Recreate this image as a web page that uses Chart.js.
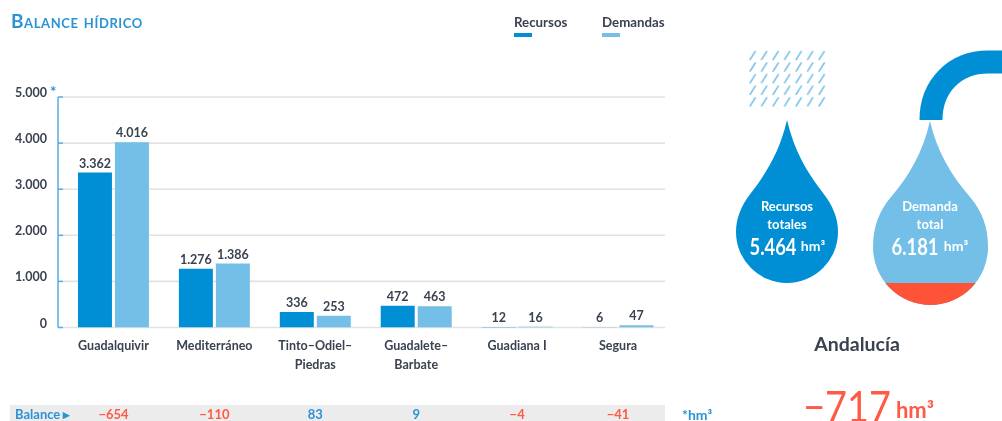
<!DOCTYPE html>
<html lang="es">
<head>
<meta charset="utf-8">
<title>Balance hídrico</title>
<script src="https://cdn.jsdelivr.net/npm/chart.js@4/dist/chart.umd.min.js"></script>
<style>
  html, body { margin: 0; background: #fff; }
  #page { position: relative; width: 1002px; height: 421px; overflow: hidden; font-family: Lato, sans-serif; color: #39424f; }
  #grafico { position: absolute; left: 0; top: 0; }
  #dibujo { position: absolute; left: 0; top: 0; }
  .t { position: absolute; white-space: nowrap; line-height: 1; }
  .c { transform: translateX(-50%); }
  #titulo { left: 11px; top: 11px; font-size: 19px; font-weight: 700; font-variant: small-caps; color: #2a93d5; letter-spacing: .6px; }
  .leyenda { font-size: 13.3px; font-weight: 700; top: 16px; }
  .marca { position: absolute; top: 33px; width: 18px; height: 3.5px; }
  .blanco { color: #fff; font-weight: 700; }
  .estrecho { transform: translateX(-50%) scaleX(.8); }
</style>
</head>
<body>
<div id="page">
  <canvas id="grafico" width="1002" height="421"></canvas>
  <svg id="dibujo" width="1002" height="421" viewBox="0 0 1002 421">
    <defs>
      <pattern id="lluvia" x="749" y="50.5" width="11.5" height="11.6" patternUnits="userSpaceOnUse">
        <line x1="0.8" y1="9.6" x2="6.6" y2="0.4" stroke="#73bfe8" stroke-width="1.6"/>
      </pattern>
      <clipPath id="gotaDemanda">
        <path d="M930 121 C937 152 952 176 970 197 C982 211 988 227 988 247 A57.5 58 0 0 1 873 247 C873 227 879 211 891 197 C909 176 923 152 930 121 Z"/>
      </clipPath>
    </defs>
    <rect x="749" y="50.5" width="80.5" height="58" fill="url(#lluvia)"/>
    <path d="M787 120 C794 150 806 171 823 193 C833 206 838 218 838 232 A51 51 0 0 1 736 232 C736 218 741 206 751 193 C768 171 780 150 787 120 Z" fill="#008fd5"/>
    <path d="M931 120 C931 86 955 62 988 62 L1002 62" fill="none" stroke="#008fd5" stroke-width="23"/>
    <g clip-path="url(#gotaDemanda)">
      <rect x="870" y="118" width="122" height="190" fill="#73bfe8"/>
      <rect x="870" y="283" width="122" height="25" fill="#ff5338"/>
    </g>
  </svg>
  <div id="textos"></div>
</div>
<script>
const categorias = [['Guadalquivir'], ['Mediterráneo'], ['Tinto–Odiel–', 'Piedras'], ['Guadalete–', 'Barbate'], ['Guadiana I'], ['Segura']];
const recursos = [3362, 1276, 336, 472, 12, 6];
const demandas = [4016, 1386, 253, 463, 16, 47];
const balance = [-654, -110, 83, 9, -4, -41];
const nombresSeries = ['Recursos', 'Demandas'];
const totalRecursos = 5464;
const totalDemanda = 6181;
const balanceTotal = -717;
const maxEje = 5000;
const pasoEje = 1000;

const AZUL = '#008fd5';
const CELESTE = '#73bfe8';
const ROJO = '#ff5a45';
const TEXTO = '#39424f';
const FUENTE = 'Lato, sans-serif';

// 3362 -> 3.362, -654 -> −654
function Formato(n) {
  const s = String(Math.abs(n)).replace(/\B(?=(\d{3})+$)/g, '.');
  return n < 0 ? '\u2212' + s : s;
}

function Texto(txt, x, y, css, clases) {
  const d = document.createElement('div');
  d.className = 't ' + clases;
  d.style.left = x + 'px';
  d.style.top = y + 'px';
  d.style.cssText += css;
  d.innerHTML = txt;
  document.getElementById('textos').appendChild(d);
  return d;
}

// titulo y leyenda
Texto('Balance hídrico', 11, 11, '', '').id = 'titulo';
[[nombresSeries[0], 514, AZUL], [nombresSeries[1], 602, CELESTE]].forEach(l => {
  Texto(l[0], l[1], 16, '', 'leyenda');
  const m = document.createElement('div');
  m.className = 'marca';
  m.style.left = l[1] + 'px';
  m.style.background = l[2];
  document.getElementById('textos').appendChild(m);
});

// gotas
Texto('Recursos', 787, 200, 'font-size:13px', 'c blanco');
Texto('totales', 787, 218, 'font-size:13px', 'c blanco');
Texto(Formato(totalRecursos), 773, 235, 'font-size:23px', 'estrecho blanco');
Texto('hm³', 813, 239, 'font-size:14px', 'c blanco');
Texto('Demanda', 930, 200, 'font-size:13px', 'c blanco');
Texto('total', 930, 218, 'font-size:13px', 'c blanco');
Texto(Formato(totalDemanda), 915, 235, 'font-size:23px', 'estrecho blanco');
Texto('hm³', 956, 239, 'font-size:14px', 'c blanco');

// totales andalucia
Texto('Andalucía', 857, 334, 'font-size:19.5px;font-weight:700', 'c');
Texto(Formato(balanceTotal), 847, 385, 'font-size:42px;transform:translateX(-50%) scaleX(.9);color:' + ROJO, '');
Texto('hm³', 915, 399, 'font-size:22px;font-weight:700;color:' + ROJO, 'c');

// ejes, rejilla y fila de balance, hechos a mano porque salen del area del grafico
const marcoPlugin = {
  id: 'marco',
  beforeDatasetsDraw(chart) {
    const { ctx, chartArea, scales } = chart;
    const izq = chartArea.left - 5;
    ctx.save();
    for (let v = 0; v <= maxEje; v += pasoEje) {
      const y = scales.y.getPixelForValue(v);
      ctx.strokeStyle = '#e2e2e2';
      ctx.lineWidth = 1.6;
      ctx.beginPath();
      ctx.moveTo(chartArea.left, y);
      ctx.lineTo(665, y);
      ctx.stroke();
      ctx.strokeStyle = '#5aaee0';
      ctx.beginPath();
      ctx.moveTo(izq, y);
      ctx.lineTo(chartArea.left, y);
      ctx.stroke();
    }
    ctx.strokeStyle = '#5aaee0';
    ctx.lineWidth = 1.5;
    ctx.beginPath();
    ctx.moveTo(izq, scales.y.getPixelForValue(maxEje));
    ctx.lineTo(izq, scales.y.getPixelForValue(0));
    ctx.stroke();
    ctx.restore();
  },
  afterDatasetsDraw(chart) {
    const { ctx, scales } = chart;
    ctx.save();
    ctx.textAlign = 'center';
    ctx.textBaseline = 'middle';
    ctx.font = '700 12.5px ' + FUENTE;
    ctx.fillStyle = TEXTO;
    chart.data.datasets.forEach((ds, i) => {
      chart.getDatasetMeta(i).data.forEach((bar, j) => {
        ctx.fillText(Formato(ds.data[j]), bar.x, bar.y - 9);
      });
    });

    ctx.fillStyle = '#ececec';
    ctx.fillRect(10, 405, 655, 16);
    ctx.font = '700 13px ' + FUENTE;
    balance.forEach((v, j) => {
      ctx.fillStyle = v < 0 ? ROJO : '#2a93d5';
      ctx.fillText(Formato(v), scales.x.getPixelForValue(j), 415);
    });
    ctx.textAlign = 'left';
    ctx.fillStyle = '#2a93d5';
    ctx.fillText('Balance ▸', 15, 415);
    ctx.font = '700 14px ' + FUENTE;
    ctx.fillText('*hm³', 682, 415);
    ctx.font = '700 15px ' + FUENTE;
    ctx.fillText('*', 50, 92);
    ctx.restore();
  }
};

new Chart(document.getElementById('grafico'), {
  type: 'bar',
  data: {
    labels: categorias,
    datasets: [
      { label: nombresSeries[0], data: recursos, backgroundColor: AZUL },
      { label: nombresSeries[1], data: demandas, backgroundColor: CELESTE }
    ]
  },
  options: {
    responsive: false,
    animation: false,
    categoryPercentage: 0.733,
    barPercentage: 0.919,
    layout: { padding: { top: 97, right: 333.5, left: 0, bottom: 0 } },
    plugins: { legend: { display: false }, title: { display: false }, tooltip: { enabled: false } },
    scales: {
      x: {
        grid: { display: false, drawTicks: false },
        border: { display: false },
        ticks: {
          autoSkip: false, maxRotation: 0, minRotation: 0, padding: 9, color: TEXTO,
          font: { family: FUENTE, size: 12.5, weight: '700', lineHeight: 1.5 }
        },
        afterFit(s) { s.height = 93.5; }
      },
      y: {
        min: 0,
        max: maxEje,
        grid: { display: false, drawTicks: false },
        border: { display: false },
        ticks: {
          stepSize: pasoEje, padding: 16, labelOffset: -4, color: TEXTO,
          font: { family: FUENTE, size: 12.5, weight: '700' },
          callback: v => Formato(v)
        },
        afterFit(s) { s.width = 63; }
      }
    }
  },
  plugins: [marcoPlugin]
});
</script>
</body>
</html>
